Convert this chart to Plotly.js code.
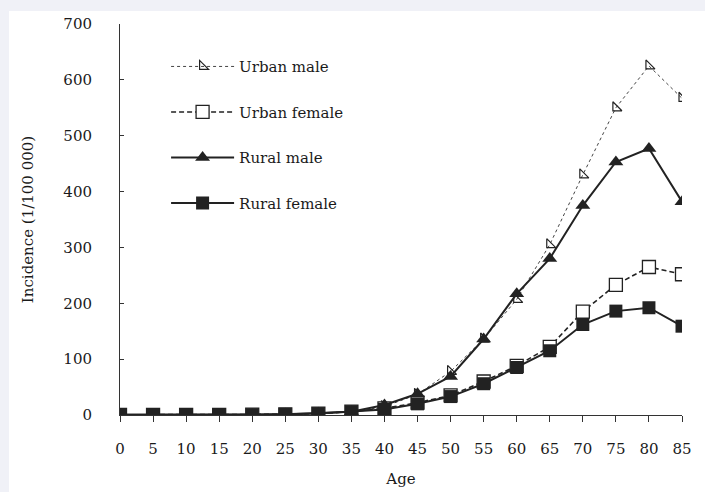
<!DOCTYPE html>
<html>
<head>
<meta charset="utf-8">
<script src="https://cdn.plot.ly/plotly-3.0.1.min.js"></script>
<style>
html,body{margin:0;padding:0;background:#f0f1f7;width:705px;height:492px;overflow:hidden;}
#chart{position:absolute;left:9px;top:11px;width:696px;height:481px;background:#fff;}
</style>
</head>
<body>
<div id="chart"></div>
<script>
const ages = [0,5,10,15,20,25,30,35,40,45,50,55,60,65,70,75,80,85];
const urbanMale   = [0.5,0.3,0.3,0.4,0.6,1.2,2.5,5,15,37,78,136,207,305,430,550,625,567];
const urbanFemale = [0.4,0.3,0.3,0.4,0.6,1.2,2.5,6,12,22,35,60,88,122,185,233,265,252];
const ruralMale   = [0.5,0.3,0.3,0.4,0.6,1.3,3,6,18,38,69,136,217,280,375,453,477,382];
const ruralFemale = [0.4,0.3,0.3,0.4,0.6,1.2,2.5,6,10,20,33,56,85,115,162,186,192,159];
const seriesNames = ["Urban male","Urban female","Rural male","Rural female"];
const yTicks = [0,100,200,300,400,500,600,700];

const font = {family:"DejaVu Serif", color:"#1a1a1a", size:15};

const traces = [
  {x:ages, y:urbanMale, name:seriesNames[0], legendgroup:"a", mode:"lines+markers",
   line:{color:"#444", width:1, dash:"dot"},
   marker:{symbol:"triangle-sw-open", size:10, color:"#222", line:{width:1.2, color:"#222"}}},
  {x:ages, y:urbanFemale, name:seriesNames[1], legendgroup:"b", mode:"lines+markers",
   line:{color:"#222", width:1.6, dash:"5px,3px"},
   marker:{symbol:"square", size:13, color:"#fff", line:{width:1.3, color:"#222"}}},
  {x:ages, y:ruralMale, name:seriesNames[2], legendgroup:"c", mode:"lines+markers",
   line:{color:"#222", width:2},
   marker:{symbol:"triangle-up", size:13, color:"#222"}},
  {x:ages, y:ruralFemale, name:seriesNames[3], legendgroup:"d", mode:"lines+markers",
   line:{color:"#222", width:2},
   marker:{symbol:"square", size:13, color:"#222"}}
];

const layout = {
  width:696, height:481,
  margin:{l:111, r:23, t:13, b:77},
  paper_bgcolor:"#fff", plot_bgcolor:"#fff",
  font:font,
  showlegend:true,
  legend:{x:0.082, y:0.933, xanchor:"left", yanchor:"top", bgcolor:"rgba(0,0,0,0)",
          itemwidth:63, tracegroupgap:23, font:{...font}},
  xaxis:{range:[0,85], tickvals:ages, ticktext:ages.map(String), showgrid:false, zeroline:false,
         showline:true, linecolor:"#333", linewidth:1, ticks:"outside", ticklen:6, tickcolor:"#333",
         tickfont:{...font}, ticklabelstandoff:14,
         title:{text:"Age", font:{...font}, standoff:16}},
  yaxis:{range:[0,700], tickvals:yTicks, showgrid:false, zeroline:false,
         showline:true, linecolor:"#333", linewidth:1, ticks:"inside", ticklen:4, tickcolor:"#333",
         tickfont:{...font}, ticklabelstandoff:24,
         title:{text:"Incidence (1/100 000)", font:{...font}, standoff:26}}
};

Plotly.newPlot("chart", traces, layout, {displayModeBar:false, staticPlot:true});
</script>
</body>
</html>
